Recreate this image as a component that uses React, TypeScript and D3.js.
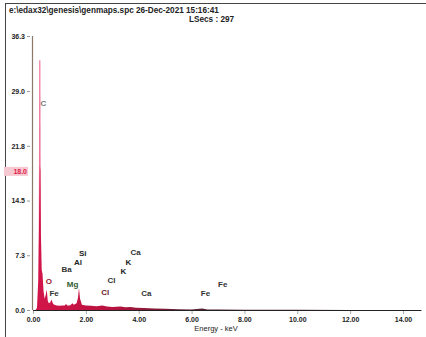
import { useEffect, useRef } from 'react';
import * as d3 from 'd3';

// spectrum channels (keV) and counts
const energies = [0.10, 0.15, 0.20, 0.23, 0.26, 0.28, 0.30, 0.33, 0.36, 0.40, 0.44, 0.48, 0.52, 0.56, 0.60, 0.65, 0.70, 0.75, 0.80, 0.90, 1.00, 1.10, 1.20, 1.25, 1.30, 1.40, 1.49, 1.55, 1.65, 1.70, 1.74, 1.78, 1.85, 2.00, 2.20, 2.40, 2.62, 2.80, 3.00, 3.31, 3.50, 3.69, 3.90, 4.20, 4.60, 5.00, 5.50, 6.00, 6.40, 6.60, 7.00, 8.00, 10.0, 12.0, 14.0, 14.7];
const counts = [0.0, 0.3, 4.0, 12.0, 19.2, 18.5, 10.0, 5.3, 4.8, 2.5, 1.5, 2.0, 2.7, 1.2, 0.9, 1.0, 1.4, 0.9, 0.7, 0.6, 0.55, 0.6, 0.6, 0.8, 0.6, 0.6, 0.9, 0.7, 0.9, 1.6, 2.9, 1.5, 0.7, 0.6, 0.55, 0.5, 0.6, 0.45, 0.4, 0.45, 0.35, 0.4, 0.3, 0.25, 0.2, 0.15, 0.1, 0.08, 0.2, 0.08, 0.05, 0.03, 0.02, 0.01, 0.0, 0.0];

// second (pink) trace, only the tall C line shows above the first one
const overlayEnergies = [0.21, 0.235, 0.28, 0.30];
const overlayCounts = [0, 33.1, 33.1, 0];

const yTicks = [0, 7.25, 14.5, 21.75, 29.0, 36.3];
const yTickLabels = ['0.0', '7.3', '14.5', '21.8', '29.0', '36.3'];
const xTicks = [0, 2, 4, 6, 8, 10, 12, 14];

// element markers: name, energy position, label height (counts), colour
const elementNames = ['C', 'Si', 'Al', 'Ba', 'O', 'Mg', 'Fe', 'Ca', 'K', 'K', 'Cl', 'Cl', 'Ca', 'Fe', 'Fe'];
const elementEnergies = [0.28, 1.74, 1.55, 1.08, 0.48, 1.28, 0.62, 3.69, 3.50, 3.31, 2.82, 2.58, 4.10, 6.35, 7.00];
const elementCounts = [27.0, 7.1, 6.0, 5.0, 3.4, 3.0, 1.8, 7.3, 6.0, 4.8, 3.6, 2.0, 1.8, 1.8, 3.0];
const elementColors = ['#777', '#222', '#222', '#333', '#9a1a2a', '#2d5a2d', '#333', '#333', '#222', '#222', '#333', '#6a1a2a', '#333', '#333', '#333'];

const App = () => {
  const svgRef = useRef<SVGSVGElement>(null);

  useEffect(() => {
    const width = 426;
    const height = 337;
    const svg = d3.select(svgRef.current);
    svg.selectAll('*').remove();

    const x = d3.scaleLinear().domain([0, 14]).range([33, 403]);
    const y = d3.scaleLinear().domain([0, 36.3]).range([310, 36]);
    const font = 'Liberation Sans, Arial, sans-serif';

    svg.append('rect').attr('width', width).attr('height', height).attr('fill', '#fff');

    // frame
    svg.append('rect')
      .attr('x', 5.5).attr('y', 3.5).attr('width', 440).attr('height', 400)
      .attr('fill', 'none').attr('stroke', '#444').attr('stroke-width', 1);

    // header
    svg.append('text').attr('x', 9).attr('y', 13)
      .attr('font-family', font).attr('font-size', 8.2).attr('font-weight', 'bold').attr('fill', '#222')
      .text('e:\\edax32\\genesis\\genmaps.spc   26-Dec-2021 15:16:41');
    svg.append('text').attr('x', 189).attr('y', 22)
      .attr('font-family', font).attr('font-size', 8.2).attr('font-weight', 'bold').attr('fill', '#222')
      .text('LSecs :  297');

    // spectrum fill
    const grad = svg.append('defs').append('linearGradient')
      .attr('id', 'specGrad').attr('gradientUnits', 'userSpaceOnUse')
      .attr('x1', x(0)).attr('x2', x(6)).attr('y1', 0).attr('y2', 0);
    grad.append('stop').attr('offset', '0%').attr('stop-color', '#d4154a');
    grad.append('stop').attr('offset', '50%').attr('stop-color', '#b8123f');
    grad.append('stop').attr('offset', '100%').attr('stop-color', '#5a2030');

    const pts = energies.map((e, i) => [e, counts[i]] as [number, number]);
    const area = d3.area<[number, number]>()
      .x((d) => x(d[0]))
      .y0(y(0))
      .y1((d) => y(d[1]))
      .curve(d3.curveLinear);

    const ovPts = overlayEnergies.map((e, i) => [e, overlayCounts[i]] as [number, number]);
    svg.append('path').datum(ovPts).attr('d', area).attr('fill', '#ee7899');

    svg.append('path').datum(pts).attr('d', area).attr('fill', 'url(#specGrad)');

    // y axis
    svg.append('line')
      .attr('x1', 32.5).attr('x2', 32.5).attr('y1', y(36.3)).attr('y2', y(0))
      .attr('stroke', '#8a7868').attr('stroke-width', 1.2);
    const yAxis = svg.append('g').attr('transform', 'translate(30,0)')
      .call(d3.axisLeft(y).tickValues(yTicks).tickSize(3).tickPadding(2)
        .tickFormat((d, i) => yTickLabels[i]));
    yAxis.select('.domain').remove();
    yAxis.selectAll('line').attr('stroke', '#999');
    yAxis.selectAll('text').attr('font-family', font).attr('font-size', 7)
      .attr('font-weight', 'bold').attr('fill', '#222');

    // cursor readout on the y axis
    svg.append('rect').attr('x', 4).attr('y', y(18.3) - 5).attr('width', 24).attr('height', 9)
      .attr('fill', '#f6c8d2');
    svg.append('text').attr('x', 27).attr('y', y(18.3) + 2.5).attr('text-anchor', 'end')
      .attr('font-family', font).attr('font-size', 7).attr('font-weight', 'bold').attr('fill', '#e0204a')
      .text('18.0');

    // x axis
    svg.append('line')
      .attr('x1', x(0)).attr('x2', x(14.7)).attr('y1', y(0) + 0.5).attr('y2', y(0) + 0.5)
      .attr('stroke', '#222').attr('stroke-width', 1.2);
    const xAxis = svg.append('g').attr('transform', `translate(0,${y(0) + 1})`)
      .call(d3.axisBottom(x).tickValues(xTicks).tickSize(3).tickPadding(3).tickFormat(d3.format('.2f')));
    xAxis.select('.domain').remove();
    xAxis.selectAll('line').attr('stroke', '#aaa');
    xAxis.selectAll('text').attr('font-family', font).attr('font-size', 7)
      .attr('font-weight', 'bold').attr('fill', '#222');

    svg.append('text').attr('x', 216).attr('y', 331).attr('text-anchor', 'middle')
      .attr('font-family', font).attr('font-size', 7.5).attr('fill', '#222')
      .text('Energy - keV');

    // element labels
    svg.append('g').selectAll('text')
      .data(elementNames)
      .join('text')
      .attr('x', (d, i) => x(elementEnergies[i]))
      .attr('y', (d, i) => y(elementCounts[i]))
      .attr('font-family', font).attr('font-size', 8).attr('font-weight', 'bold')
      .attr('fill', (d, i) => elementColors[i])
      .text((d) => d);
  }, []);

  return (
    <svg ref={svgRef} width={426} height={337}
      style={{ position: 'fixed', left: 0, top: 0, display: 'block' }} />
  );
};

export default App;
